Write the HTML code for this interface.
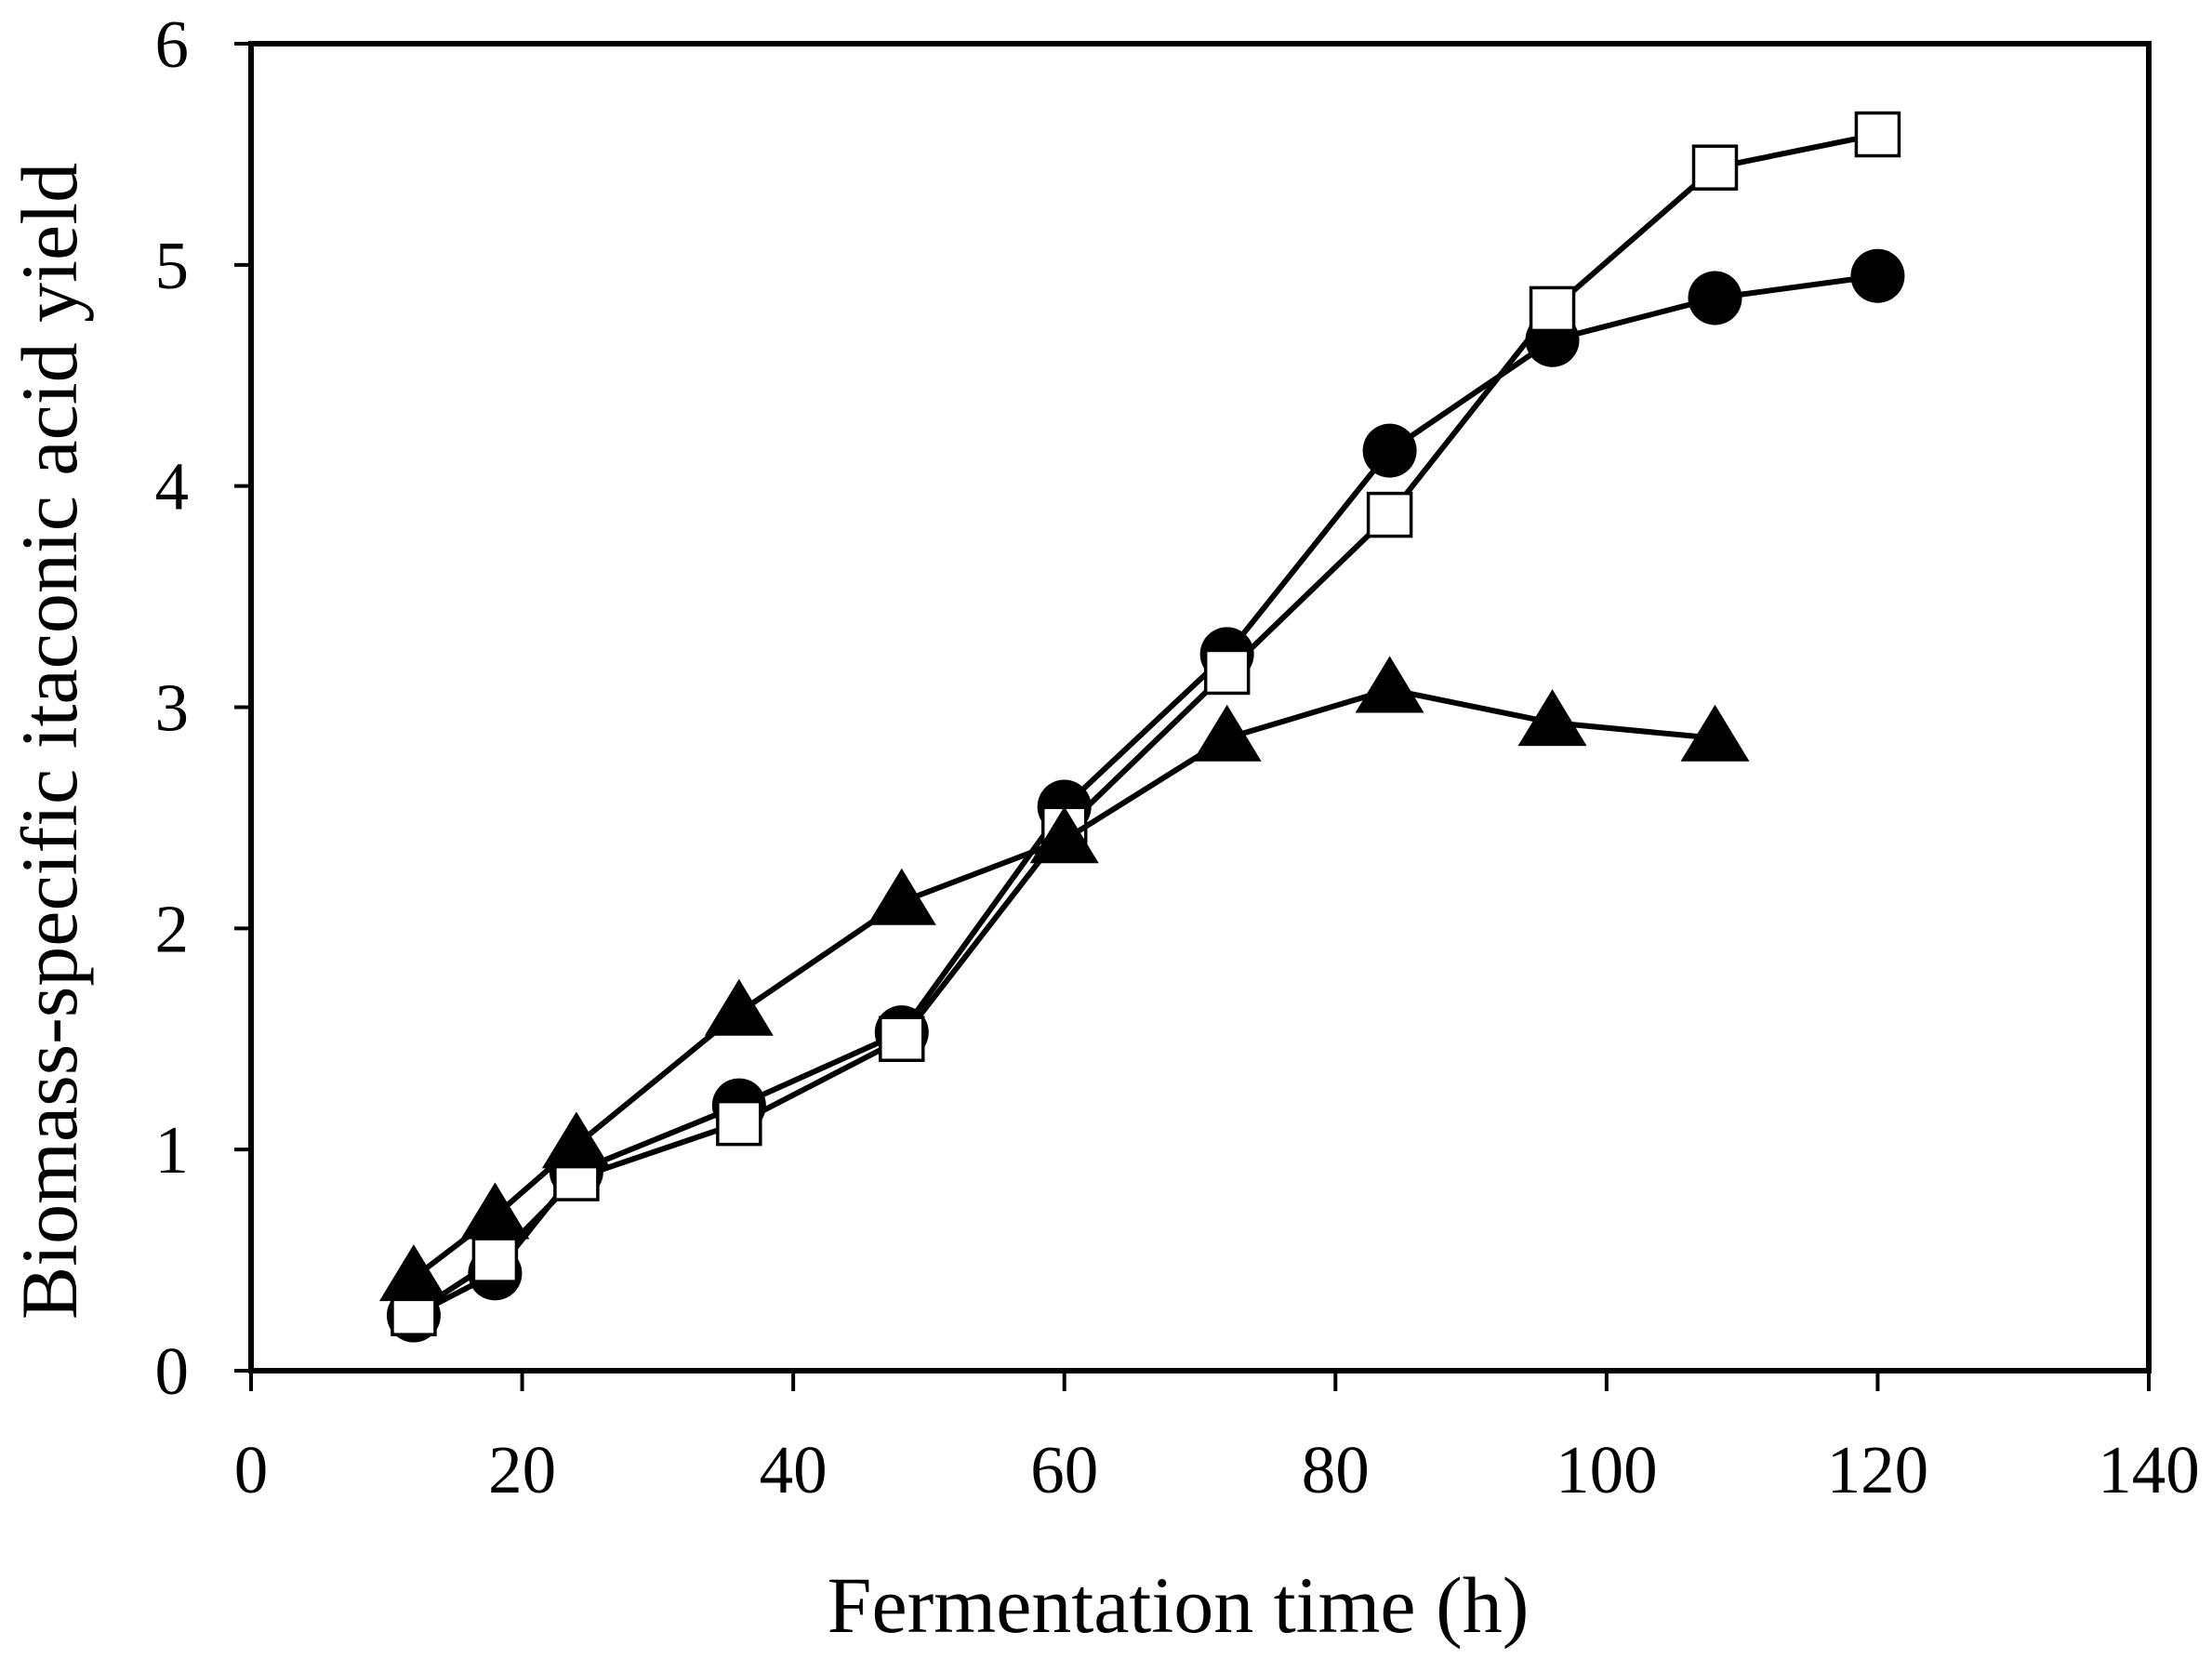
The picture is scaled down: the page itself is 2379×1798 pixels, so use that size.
<!DOCTYPE html>
<html><head><meta charset="utf-8"><style>
html,body{margin:0;padding:0;background:#fff}
svg text{font-family:"Liberation Serif",serif;fill:#000}
</style></head><body>
<svg id="chart" width="2379" height="1793" viewBox="0 0 2379 1793" xmlns="http://www.w3.org/2000/svg">
<g id="axes"></g>
<g id="series"></g>
<text x="1267" y="1755" font-size="86" text-anchor="middle">Fermentation time (h)</text>
<text transform="translate(82,797) rotate(-90)" font-size="86" text-anchor="middle">Biomass-specific itaconic acid yield</text>
</svg>
<script>
const xTicks=[0,20,40,60,80,100,120,140];
const yTicks=[0,1,2,3,4,5,6];
const circleX=[12,18,24,36,48,60,72,84,96,108,120];
const circleY=[0.25,0.44,0.9,1.2,1.53,2.55,3.24,4.16,4.66,4.85,4.95];
const squareX=[12,18,24,36,48,60,72,84,96,108,120];
const squareY=[0.26,0.5,0.87,1.12,1.5,2.45,3.16,3.87,4.8,5.44,5.59];
const triX=[12,18,24,36,48,60,72,84,96,108];
const triY=[0.42,0.7,1.02,1.62,2.12,2.4,2.86,3.08,2.93,2.86];

const NS="http://www.w3.org/2000/svg";
const L=270,R=2311,T=47,B=1474;
function sx(v){return L+(v-0)/(140-0)*(R-L);}
function sy(v){return B-(v-0)/(6-0)*(B-T);}
function mk(tag,attrs,parent){const e=document.createElementNS(NS,tag);for(const k in attrs)e.setAttribute(k,attrs[k]);parent.appendChild(e);return e;}
const axes=document.getElementById('axes');
const frame=mk('rect',{x:L,y:T,width:R-L,height:B-T,fill:'none',stroke:'#000','stroke-width':6},axes);


xTicks.forEach(t=>{
  const ln=mk('line',{x1:sx(t),x2:sx(t),y1:B,y2:B+22,stroke:'#000','stroke-width':4},axes);
  
  
  const tx=mk('text',{x:sx(t),y:1605,'font-size':73,'text-anchor':'middle'},axes);
  tx.textContent=t;
  
  
});
yTicks.forEach(t=>{
  const ln=mk('line',{x1:L-18,x2:L,y1:sy(t),y2:sy(t),stroke:'#000','stroke-width':4},axes);
  
  
  const tx=mk('text',{x:203,y:sy(t)+25,'font-size':73,'text-anchor':'end'},axes);
  tx.textContent=t;
  
  
});
const ser=document.getElementById('series');
function line(xs,ys,name){
  const p=mk('polyline',{points:xs.map((x,i)=>sx(x)+','+sy(ys[i])).join(' '),fill:'none',stroke:'#000','stroke-width':6},ser);
  
  
}
line(circleX,circleY,'circle-series-line');
circleX.forEach((x,i)=>{
  const c=mk('circle',{cx:sx(x),cy:sy(circleY[i]),r:29,fill:'#000'},ser);
  
  
});
line(squareX,squareY,'square-series-line');
squareX.forEach((x,i)=>{
  const s=mk('rect',{x:sx(x)-23,y:sy(squareY[i])-23,width:46,height:46,fill:'#fff',stroke:'#000','stroke-width':3.5},ser);
  
  
});
line(triX,triY,'triangle-series-line');
triX.forEach((x,i)=>{
  const cx=sx(x),cy=sy(triY[i]);
  const t=mk('polygon',{points:(cx)+','+(cy-36)+' '+(cx-37)+','+(cy+25)+' '+(cx+37)+','+(cy+25),fill:'#000'},ser);
  
  
});
</script>
</body></html>
